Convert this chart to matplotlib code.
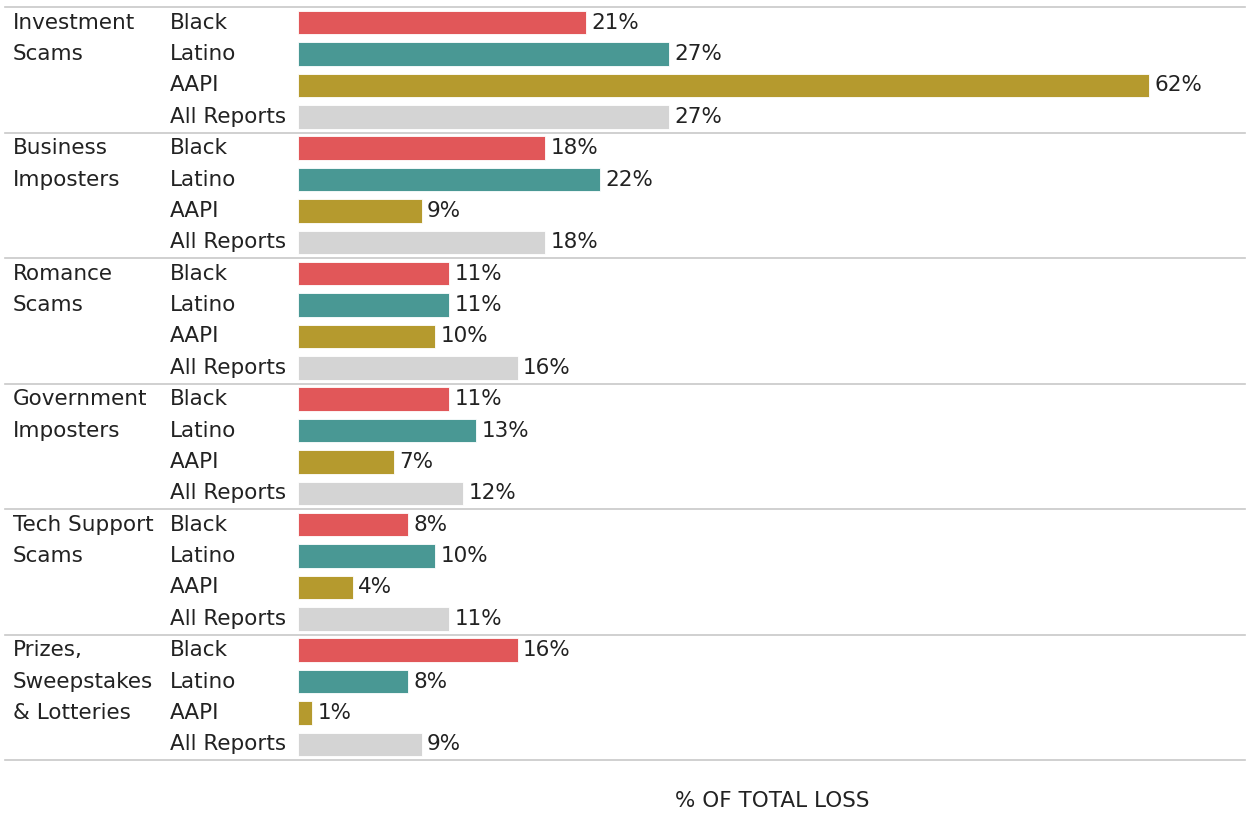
import matplotlib.pyplot as plt
import matplotlib.transforms as mtransforms

categories = ["Investment\nScams", "Business\nImposters", "Romance\nScams",
              "Government\nImposters", "Tech Support\nScams",
              "Prizes,\nSweepstakes\n& Lotteries"]
groups = ["Black", "Latino", "AAPI", "All Reports"]
black = [21, 18, 11, 11, 8, 16]
latino = [27, 22, 11, 13, 10, 8]
aapi = [62, 9, 10, 7, 4, 1]
all_reports = [27, 18, 16, 12, 11, 9]

colors = ["#E15759", "#499894", "#B59A2E", "#D4D4D4"]
txt = "#222222"

W, H = 1247, 814
fig = plt.figure(figsize=(W / 100, H / 100), dpi=100)
ax = fig.add_axes([298 / W, 1 - 760 / H, (W - 298) / W, 753 / H])
ax.set_xlim(0, (W - 298) / 13.73)
nrows = len(categories) * len(groups)
ax.set_ylim(nrows, 0)
for s in ax.spines.values():
    s.set_visible(False)
ax.set_yticks([])
ax.set_xticks([])

series = [black, latino, aapi, all_reports]
trans = mtransforms.blended_transform_factory(fig.transFigure, ax.transData)
fsize = 15.5

for c, cat in enumerate(categories):
    base = c * len(groups)
    for g, vals in enumerate(series):
        y = base + g + 0.5
        ax.barh(y, vals[c], height=0.75, color=colors[g], edgecolor="white", linewidth=0.6)
        ax.text(vals[c] + 0.4, y, f"{vals[c]}%", va="center", ha="left",
                fontsize=fsize, color=txt)
        ax.text(170 / W, y, groups[g], transform=trans, va="center", ha="left",
                fontsize=fsize, color=txt)
    for k, line in enumerate(cat.split("\n")):
        ax.text(13 / W, base + k + 0.5, line, transform=trans, va="center",
                ha="left", fontsize=fsize, color=txt)
    ax.plot([5 / W, 1245 / W], [base, base], transform=trans, color="#C8C8C8",
            lw=1.2, clip_on=False)
ax.plot([5 / W, 1245 / W], [nrows, nrows], transform=trans, color="#C8C8C8",
        lw=1.2, clip_on=False)

ax.set_xlabel("% OF TOTAL LOSS", fontsize=15.5, color=txt, labelpad=22)

fig.savefig("out.png", dpi=100)
